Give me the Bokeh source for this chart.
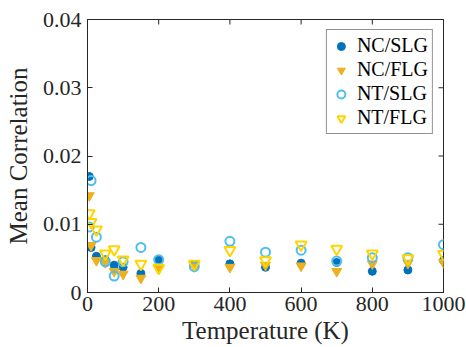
import math
from bokeh.plotting import figure
from bokeh.models import Range1d, FixedTicker, Legend, LegendItem
from bokeh.embed import file_html
from bokeh.resources import INLINE

temperature = [5, 10, 25, 50, 75, 100, 150, 200, 300, 400, 500, 600, 700, 800, 900, 1000]
nc_slg = [0.0170, 0.0066, 0.0053, 0.0048, 0.0040, 0.0037, 0.0028, 0.0048, 0.0041, 0.0042, 0.0037, 0.0043, 0.0044, 0.0031, 0.0033, 0.0047]
nc_flg = [0.0142, 0.0069, 0.0047, 0.0044, 0.0031, 0.0027, 0.0021, 0.0035, 0.0038, 0.0037, 0.0040, 0.0039, 0.0031, 0.0042, 0.0043, 0.0044]
nt_slg = [0.0096, 0.0164, 0.0081, 0.0045, 0.0024, 0.0045, 0.0066, 0.0048, 0.0038, 0.0075, 0.0059, 0.0062, 0.0046, 0.0051, 0.0051, 0.0070]
nt_flg = [0.0116, 0.0103, 0.0092, 0.0057, 0.0063, 0.0048, 0.0042, 0.0036, 0.0042, 0.0062, 0.0047, 0.0070, 0.0064, 0.0057, 0.0050, 0.0056]

x_ticks = [0, 200, 400, 600, 800, 1000]
y_ticks = [0, 0.01, 0.02, 0.03, 0.04]
y_tick_labels = ["0", "0.01", "0.02", "0.03", "0.04"]
x_min, x_max = 0, 1000
y_min, y_max = 0, 0.04

FONT = "Liberation Serif"
AX = "#262626"

p = figure(width=466, height=347, output_backend="svg", toolbar_location=None,
           x_range=Range1d(x_min, x_max), y_range=Range1d(y_min, y_max),
           min_border_left=87, min_border_right=23, min_border_top=19, min_border_bottom=55)
p.grid.visible = False
p.outline_line_color = AX
p.background_fill_color = "white"

for ax in (p.xaxis[0], p.yaxis[0]):
    ax.major_tick_in = 5
    ax.major_tick_out = 0
    ax.minor_tick_line_color = None
    ax.axis_line_color = AX
    ax.major_tick_line_color = AX
    ax.major_label_text_font = FONT
    ax.major_label_text_font_size = "22px"
    ax.major_label_text_color = AX
    ax.axis_label_text_font = FONT
    ax.axis_label_text_font_size = "25px"
    ax.axis_label_text_font_style = "normal"
    ax.axis_label_text_color = AX

p.xaxis.ticker = FixedTicker(ticks=x_ticks)
p.yaxis.ticker = FixedTicker(ticks=y_ticks)
p.yaxis.major_label_overrides = {t: l for t, l in zip(y_ticks, y_tick_labels)}
p.xaxis.axis_label = "Temperature (K)"
p.yaxis.axis_label = "Mean Correlation"
p.xaxis.major_label_standoff = 4
p.yaxis.major_label_standoff = 6
p.xaxis.axis_label_standoff = 3
p.yaxis.axis_label_standoff = 8

# inward ticks on the top and right edges of the box (half of each dash is clipped by the frame)
p.scatter(x_ticks, [y_max] * len(x_ticks), marker="dash", angle=math.pi / 2, size=10,
          line_color=AX, line_width=1)
p.scatter([x_max] * len(y_ticks), y_ticks, marker="dash", size=10,
          line_color=AX, line_width=1)

c_ncslg = "#0072BD"
c_ncflg = "#EDB120"
c_ntslg = "#4DBEEE"
c_ntflg = "#FFD500"

r1 = p.scatter(temperature, nc_slg, marker="circle", size=8, fill_color=c_ncslg, line_color=c_ncslg)
r2 = p.scatter(temperature, nc_flg, marker="inverted_triangle", size=10, fill_color=c_ncflg, line_color=c_ncflg)
r3 = p.scatter(temperature, nt_slg, marker="circle", size=9, fill_color=None, line_color=c_ntslg, line_width=2)
r4 = p.scatter(temperature, nt_flg, marker="inverted_triangle", size=11, fill_color=None, line_color=c_ntflg, line_width=2)

legend = Legend(items=[LegendItem(label="NC/SLG", renderers=[r1]),
                       LegendItem(label="NC/FLG", renderers=[r2]),
                       LegendItem(label="NT/SLG", renderers=[r3]),
                       LegendItem(label="NT/FLG", renderers=[r4])],
                location="top_right", margin=10, padding=4, spacing=1,
                glyph_width=20, glyph_height=20, label_height=20, label_standoff=6,
                label_text_font=FONT, label_text_font_size="20px", label_text_color="black",
                border_line_color=AX, border_line_width=1, background_fill_alpha=1.0)
p.add_layout(legend)

open("out.html", "w").write(file_html(p, INLINE))
